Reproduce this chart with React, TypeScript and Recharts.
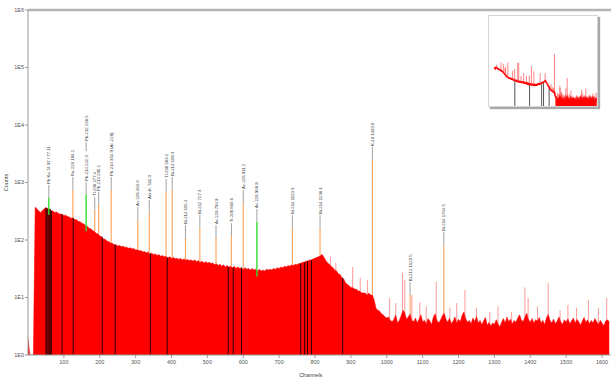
import React from "react";
import { ComposedChart, Area, Line, Scatter, XAxis, YAxis, ReferenceLine } from "recharts";

// one sample every 5 channels, ch 0 .. 1620
const STEP = 5;
const spectrum = [
  2, 1, 1, 1, 372, 350, 318, 300, 322, 348, 365, 352, 345, 322, 318, 300, 306, 288, 282, 280,
  268, 270, 255, 252, 240, 244, 228, 226, 212, 208, 196, 192, 178, 174, 160, 157, 146, 142, 130, 128,
  118, 114, 104, 103, 96, 94, 89, 88, 83, 83, 79, 80, 77, 78, 75, 75, 72, 73, 70, 71,
  67, 68, 65, 66, 62, 63, 60, 62, 58, 59, 56, 57, 54, 56, 52, 54, 51, 52, 49, 51,
  48, 50, 47, 48, 46, 48, 45, 47, 45, 46, 44, 45, 43, 45, 42, 44, 41, 43, 40, 42,
  40, 41, 39, 40, 37, 39, 36, 38, 35, 37, 34, 36, 34, 35, 33, 35, 32, 34, 32, 33,
  31, 33, 31, 32, 30, 32, 30, 31, 29, 31, 29, 30, 29, 31, 30, 31, 30, 32, 31, 33,
  32, 34, 33, 35, 34, 36, 35, 37, 36, 38, 37, 39, 39, 41, 41, 43, 43, 45, 45, 47,
  48, 50, 51, 54, 56, 50, 44, 40, 38, 35, 33, 30, 29, 26, 25, 22, 21, 18, 17, 16,
  15, 15, 14, 14, 13, 13, 12, 12, 12, 11, 12, 11, 11, 9, 6.5, 6, 5.8, 5.2, 5, 4.6,
  4.4, 4.6, 4.0, 3.8, 4.2, 5.0, 3.6, 4.0, 4.8, 6.0, 5.5, 4.2, 4.6, 5.2, 4.0, 3.8, 4.4, 3.6, 4.2, 5.0,
  3.8, 4.0, 3.5, 4.3, 3.9, 3.4, 4.6, 5.2, 4.0, 3.6, 4.1, 4.8, 5.4, 4.2, 3.7, 4.4, 3.5, 3.9, 4.6, 3.6,
  4.2, 3.8, 4.9, 5.6, 4.3, 3.7, 4.0, 3.5, 4.4, 3.8, 4.7, 3.6, 4.0, 3.4, 3.9, 4.5, 3.3, 3.7, 3.2, 3.6,
  3.4, 4.1, 3.5, 3.1, 3.7, 4.3, 3.6, 4.6, 3.8, 4.2, 3.5, 4.0, 3.7, 4.4, 5.0, 4.1, 3.8, 4.6, 5.3, 4.2,
  3.7, 4.3, 3.6, 4.1, 3.9, 4.5, 3.6, 4.0, 3.4, 4.4, 5.1, 4.0, 3.6, 4.2, 3.5, 3.9, 4.6, 3.8, 3.4, 4.1,
  3.7, 4.3, 3.5, 3.9, 4.4, 3.6, 4.2, 3.8, 3.3, 3.9, 4.5, 3.7, 4.1, 3.5, 4.0, 3.6, 4.3, 3.8, 3.4, 4.0,
  3.6, 3.2, 3.9, 4.1, 3.8,
];

// dark ROI marker lines
const markerChannels = [50, 53, 56, 59, 62, 65, 95, 126, 207, 243, 341, 388, 558, 572, 595, 760, 771, 779, 790, 877];
// the overview only shows the markers from ch 300 on
const insetMarkerChannels = [341, 572, 760, 790, 877];

// identified peaks (orange)
const peakChannels = [125, 186, 197, 232, 306, 338, 385, 402, 439, 479, 524, 567, 600, 737, 814, 960, 1065, 1159];
const peakCounts = [740, 333, 406, 740, 223, 295, 685, 740, 108, 162, 108, 117, 440, 162, 162, 2460, 11, 82];
const peakLabels = [
  "Ra-226 186.2", "Tl-208 277.4", "Pb-214 295.2", "Pb-214 351.9 (Ac-228)", "Ac-228 463.0",
  "Annih. 511.0", "Tl-208 583.2", "Bi-214 609.3", "Bi-214 665.4", "Bi-212 727.3",
  "Ac-228 794.9", "Tl-208 860.6", "Ac-228 911.2", "Bi-214 1120.3", "Bi-214 1238.1",
  "K-40 1460.8", "Bi-212 1620.5", "Bi-214 1764.5",
];

// multiplets (green)
const greenChannels = [58, 162, 638];
const greenCounts = [537, 606, 206];
const greenLabels = ["Pb Kα 74.97 / 77.11", "Pb-214 242.0|Pb-212 238.6", "Ac-228 968.9"];

// single-channel spikes
const spikeChannels = [843, 858, 905, 926, 946, 1008, 1025, 1044, 1050, 1070, 1092, 1110, 1138, 1176, 1195, 1218, 1250, 1287, 1310, 1348, 1385, 1394, 1420, 1450, 1483, 1505, 1529, 1562, 1590, 1613];
const spikeCounts = [52, 40, 34, 22, 20, 9.8, 8, 27, 20, 11, 8.3, 7, 18.6, 6.6, 8, 13.5, 6.6, 5.6, 7, 5.6, 15, 9.8, 7, 17.8, 6, 7.5, 6.6, 9, 6.5, 9.8];

const xTicks = [100, 200, 300, 400, 500, 600, 700, 800, 900, 1000, 1100, 1200, 1300, 1400, 1500, 1600];
const yTicks = [1, 10, 100, 1000, 10000, 100000, 1000000];

const RED = "#ff0000";
const AXIS = "#9a9a9a";
const TICK = { fontSize: 5.5, fill: "#555" };
const LABEL_SIZE = 4.3;
const STEM = 13;

const spectrumData = spectrum.map((counts, i) => ({ ch: i * STEP, counts }));
// overview: line over the continuum, filled block over the noisy tail
const insetData = spectrumData.map((d) => ({
  ...d,
  line: d.ch >= 20 ? d.counts : null,
  tail: d.ch >= 975 ? d.counts : null,
}));
const countsAt = (ch: number) => spectrum[Math.min(spectrum.length - 1, Math.round(ch / STEP))];

type Pt = { ch: number; v: number | null };
const segments = (chs: number[], lo: number[], hi: number[]): Pt[] =>
  chs.flatMap((ch, i) => [{ ch, v: lo[i] }, { ch, v: hi[i] }, { ch, v: null }]);

const markerSegs = segments(markerChannels, markerChannels.map(() => 1), markerChannels.map(countsAt));
const insetMarkerSegs = segments(insetMarkerChannels, insetMarkerChannels.map(() => 1.5), insetMarkerChannels.map(countsAt));
const peakSegs = segments(peakChannels, peakChannels.map(countsAt), peakCounts);
const greenSegs = segments(greenChannels, greenChannels.map((c) => countsAt(c) * 0.8), greenCounts);
const spikeSegs = segments(spikeChannels, spikeChannels.map(countsAt), spikeCounts);
const allPeakSegs = segments(
  [...peakChannels, ...greenChannels, ...spikeChannels],
  [...peakChannels, ...greenChannels, ...spikeChannels].map(countsAt),
  [...peakCounts, ...greenCounts, ...spikeCounts]
);

const labelPoints = [
  ...peakChannels.map((ch, i) => ({ ch, v: peakCounts[i], label: peakLabels[i] })),
  ...greenChannels.map((ch, i) => ({ ch, v: greenCounts[i], label: greenLabels[i] })),
];

function PeakLabel(props: any) {
  const { cx, cy, payload } = props;
  if (cx == null || cy == null) return null;
  const parts: string[] = payload.label.split("|");
  const items: React.ReactNode[] = [];
  let y = cy - STEM;
  items.push(<line key="s0" x1={cx} y1={cy} x2={cx} y2={y} stroke="#8a8a8a" strokeWidth={0.8} />);
  parts.forEach((p, i) => {
    const tx = cx + LABEL_SIZE * 0.36;
    const ty = y - 1;
    items.push(
      <text key={"t" + i} x={tx} y={ty} transform={`rotate(-90 ${tx} ${ty})`} fontSize={LABEL_SIZE} fill="#3a3a3a" textAnchor="start">
        {p}
      </text>
    );
    y -= p.length * LABEL_SIZE * 0.56 + 2;
    if (i < parts.length - 1) {
      items.push(<line key={"s" + (i + 1)} x1={cx} y1={y} x2={cx} y2={y - 9} stroke="#8a8a8a" strokeWidth={0.8} />);
      y -= 9;
    }
  });
  return <g>{items}</g>;
}

const segLine = (data: Pt[], stroke: string, width: number, opacity = 1) => (
  <Line
    data={data}
    dataKey="v"
    stroke={stroke}
    strokeWidth={width}
    strokeOpacity={opacity}
    dot={false}
    activeDot={false}
    connectNulls={false}
    legendType="none"
    isAnimationActive={false}
  />
);

export default function App() {
  return (
    <div
      style={{
        position: "absolute",
        left: 0,
        top: 0,
        width: 613,
        height: 381,
        background: "#fff",
        fontFamily: "'Liberation Sans', Arial, sans-serif",
      }}
    >
      <ComposedChart width={613} height={381} data={spectrumData} margin={{ top: 10, right: 2, bottom: 6, left: 0 }}>
        <XAxis
          dataKey="ch"
          type="number"
          domain={[0, 1625]}
          ticks={xTicks}
          allowDataOverflow
          height={20}
          tick={TICK}
          tickSize={3}
          tickLine={{ stroke: AXIS }}
          axisLine={{ stroke: AXIS }}
          label={(p: any) => (
            <text x={p.viewBox.x + p.viewBox.width * 0.485} y={p.viewBox.y + 22} fontSize={5.5} fill="#444" textAnchor="middle">
              Channels
            </text>
          )}
        />
        <YAxis
          scale="log"
          domain={[1, 1000000]}
          ticks={yTicks}
          allowDataOverflow
          width={28}
          tick={TICK}
          tickSize={3}
          tickMargin={1}
          tickLine={{ stroke: AXIS }}
          axisLine={{ stroke: AXIS }}
          tickFormatter={(v: number) => `1E${Math.round(Math.log10(v))}`}
          label={(p: any) => {
            const x = p.viewBox.x + 8;
            const y = p.viewBox.y + p.viewBox.height / 2;
            return (
              <text x={x} y={y} transform={`rotate(-90 ${x} ${y})`} fontSize={5.5} fill="#444" textAnchor="middle">
                Counts
              </text>
            );
          }}
        />
        <ReferenceLine y={1000000} stroke="#b4b4b4" strokeWidth={2.5} />
        <Area
          dataKey="counts"
          type="linear"
          baseValue={1}
          stroke={RED}
          strokeWidth={0.5}
          fill={RED}
          fillOpacity={1}
          dot={false}
          activeDot={false}
          isAnimationActive={false}
        />
        {segLine(spikeSegs, "#ff4444", 1, 0.55)}
        {segLine(markerSegs, "#2a0000", 1)}
        {segLine(peakSegs, "#ffaa66", 1.2)}
        {segLine(greenSegs, "#33dd33", 1.4)}
        <Scatter data={labelPoints} dataKey="v" shape={PeakLabel} legendType="none" isAnimationActive={false} />
      </ComposedChart>

      <div
        style={{
          position: "absolute",
          left: 488,
          top: 15,
          width: 108,
          height: 90,
          background: "#fff",
          border: "1px solid #d6d6d6",
          boxShadow: "2px 2px 1px #a8a8a8",
        }}
      >
        <div style={{ position: "absolute", left: 4, top: 3 }}>
          <ComposedChart width={104} height={87} data={insetData} margin={{ top: 0, right: 0, bottom: 0, left: 0 }}>
            <XAxis dataKey="ch" type="number" domain={[0, 1625]} allowDataOverflow hide />
            <YAxis scale="log" domain={[1.5, 360000]} allowDataOverflow hide />
            <Area dataKey="tail" type="linear" baseValue={1.5} stroke={RED} strokeWidth={0.5} fill={RED} fillOpacity={1} dot={false} activeDot={false} isAnimationActive={false} />
            {segLine(insetMarkerSegs, "#444", 0.9)}
            <Line dataKey="line" stroke={RED} strokeWidth={1.6} dot={false} activeDot={false} connectNulls={false} legendType="none" isAnimationActive={false} />
            {segLine(allPeakSegs, "#ff5050", 0.7)}
          </ComposedChart>
        </div>
      </div>
    </div>
  );
}
